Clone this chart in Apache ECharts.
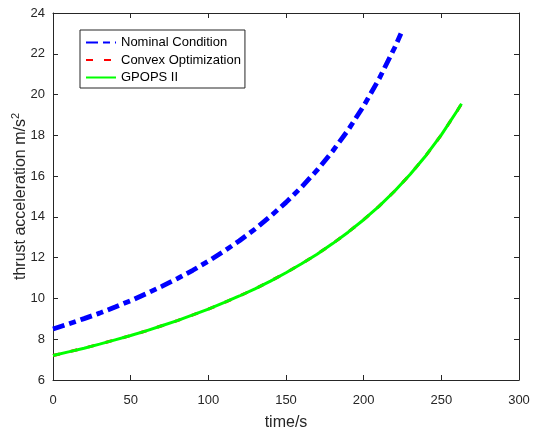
<!DOCTYPE html>
<html>
<head>
<meta charset="utf-8">
<script src="https://cdn.jsdelivr.net/npm/echarts@6/dist/echarts.min.js"></script>
<style>html,body{margin:0;padding:0;background:#fff;}#c{width:533px;height:430px;}</style>
</head>
<body>
<div id="c"></div>
<script>
// Data
var timeNominal = [0,10,20,30,40,50,60,70,80,90,100,110,120,130,140,150,160,170,180,190,200,210,220,224];
var accNominal  = [8.50,8.75,9.01,9.28,9.58,9.89,10.23,10.59,10.97,11.38,11.83,12.31,12.83,13.40,14.03,14.71,15.46,16.29,17.22,18.26,19.44,20.78,22.31,22.99];
var timeConvex  = [0,10,20,30,40,50,60,70,80,90,100,110,120,130,140,150,160,170,180,190,200,210,220,230,240,250,260,263];
var accConvex   = [7.20,7.38,7.56,7.76,7.97,8.18,8.41,8.66,8.91,9.19,9.48,9.79,10.12,10.47,10.85,11.26,11.70,12.17,12.69,13.25,13.86,14.53,15.27,16.09,17.00,18.02,19.18,19.55];
var timeGpops   = [0,10,20,30,40,50,60,70,80,90,100,110,120,130,140,150,160,170,180,190,200,210,220,230,240,250,260,263];
var accGpops    = [7.20,7.38,7.56,7.76,7.97,8.18,8.41,8.66,8.91,9.19,9.48,9.79,10.12,10.47,10.85,11.26,11.70,12.17,12.69,13.25,13.86,14.53,15.27,16.09,17.00,18.02,19.18,19.55];
var seriesNames = ['Nominal Condition','Convex Optimization','GPOPS II'];
var xLabel = 'time/s';
var yLabelMain = 'thrust acceleration m/s';
var yLabelSup = '2';

function zip(a,b){var r=[];for(var i=0;i<a.length;i++)r.push([a[i],b[i]]);return r;}

var axisCol = '#262626';
var font = 'Liberation Sans, Arial, sans-serif';
var chart = echarts.init(document.getElementById('c'), null, {renderer:'canvas'});
chart.setOption({
  animation:false,
  backgroundColor:'#fff',
  grid:{left:53,right:14,top:13,bottom:50,containLabel:false,outerBoundsMode:'none'},
  legend:{
    left:80, top:30, orient:'vertical',
    itemWidth:30, itemHeight:10, itemGap:4.5,
    padding:[6,4,4,5],
    borderColor:axisCol, borderWidth:1, backgroundColor:'#fff',
    textStyle:{fontFamily:font,fontSize:13,color:'#000'},
    itemStyle:{opacity:0},
    data:seriesNames
  },
  xAxis:[{
    type:'value', min:0, max:300, interval:50,
    name:xLabel, nameLocation:'middle', nameGap:35, nameMoveOverlap:false,
    nameTextStyle:{fontFamily:font,fontSize:16,color:axisCol},
    axisLine:{show:true,onZero:false,lineStyle:{color:axisCol,width:1}},
    axisTick:{show:true,inside:true,length:5,lineStyle:{color:axisCol}},
    axisLabel:{fontFamily:font,fontSize:13,color:axisCol,margin:14},
    splitLine:{show:false}
  },{
    type:'value', position:'top', min:0, max:300, interval:50,
    axisLine:{show:true,onZero:false,lineStyle:{color:axisCol,width:1}},
    axisTick:{show:true,inside:true,length:5,lineStyle:{color:axisCol}},
    axisLabel:{show:false}, splitLine:{show:false}
  }],
  yAxis:[{
    type:'value', min:6, max:24, interval:2,
    name:'{m|' + yLabelMain + '}{s|' + yLabelSup + '}', nameLocation:'middle', nameGap:22, nameMoveOverlap:false,
    nameTextStyle:{fontFamily:font,fontSize:16,color:axisCol,
      rich:{m:{fontFamily:font,fontSize:16,color:axisCol},
            s:{fontFamily:font,fontSize:11,color:axisCol,verticalAlign:'top',padding:[0,0,10,0]}}},
    axisLine:{show:true,onZero:false,lineStyle:{color:axisCol,width:1}},
    axisTick:{show:true,inside:true,length:5,lineStyle:{color:axisCol}},
    axisLabel:{fontFamily:font,fontSize:13,color:axisCol,margin:8},
    splitLine:{show:false}
  },{
    type:'value', position:'right', min:6, max:24, interval:2,
    axisLine:{show:true,onZero:false,lineStyle:{color:axisCol,width:1}},
    axisTick:{show:true,inside:true,length:5,lineStyle:{color:axisCol}},
    axisLabel:{show:false}, splitLine:{show:false}
  }],
  series:[
    {name:seriesNames[0],type:'line',symbol:'none',smooth:false,z:3,
     data:zip(timeNominal,accNominal),
     itemStyle:{color:'#0000ff'},
     lineStyle:{color:'#0000ff',width:4.8,type:[12,5,7,5],cap:'butt'}},
    {name:seriesNames[1],type:'line',symbol:'none',smooth:false,z:2,
     data:zip(timeConvex,accConvex),
     itemStyle:{color:'#ff0000'},
     lineStyle:{color:'#ff0000',width:3,type:[7,11]}},
    {name:seriesNames[2],type:'line',symbol:'none',smooth:false,z:4,
     data:zip(timeGpops,accGpops),
     itemStyle:{color:'#00ff00'},
     lineStyle:{color:'#00ff00',width:3,type:'solid'}}
  ]
});
</script>
</body>
</html>
